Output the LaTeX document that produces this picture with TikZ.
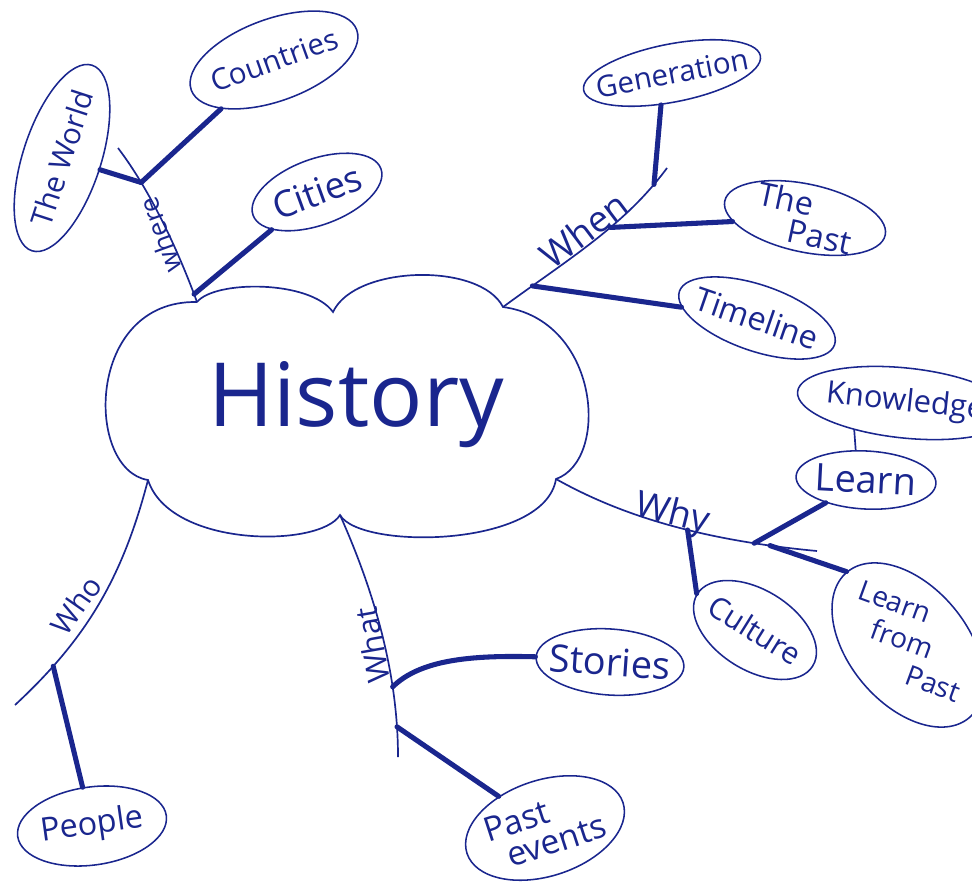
\documentclass[tikz,border=0pt]{standalone}
\usepackage{fontspec}
\setmainfont{Open Sans}
\usetikzlibrary{shapes.geometric}
\definecolor{penblue}{RGB}{26,38,142}
\newcommand{\pen}[1]{\fontsize{#1}{#1}\selectfont}

\begin{document}
\begin{tikzpicture}[x=0.025cm, y=-0.025cm, color=penblue,
	bub/.style={draw, ellipse, line width=1.1pt, inner xsep=-12pt, inner ysep=-10pt},
	arm/.style={line width=1.2pt},
	stem/.style={line width=3.6pt, line cap=round}]
\useasboundingbox (0,0) rectangle (972,882);
\clip (0,0) rectangle (972,882);
\coordinate (20) at (197,302);
\coordinate (21) at (333,312);
\coordinate (22) at (503,307);
\coordinate (23) at (556,479);
\coordinate (24) at (340,515);
\coordinate (25) at (148,480);
\draw[line width=1.2pt] (20) .. controls (215,280) and (310,280) .. (21)
	.. controls (355,265) and (480,262) .. (22)
	.. controls (600,320) and (610,460) .. (23)
	.. controls (545,548) and (360,550) .. (24)
	.. controls (320,548) and (170,548) .. (25)
	.. controls (85,470) and (85,300) .. (20);
\node (0) at (356,405) {\pen{63}History};
\node[bub, rotate=72, minimum width=4.875cm, minimum height=1.95cm, font=\pen{21}] (1) at (62,158) {The World};
\node[bub, rotate=20, minimum width=4.4cm, minimum height=2.05cm, font=\pen{21}] (2) at (274,60) {Countries};
\node[bub, rotate=20, minimum width=3.4cm, minimum height=1.65cm, font=\pen{26}] (3) at (317,192) {Cities};
\node[bub, rotate=11, minimum width=4.5cm, minimum height=1.45cm, font=\pen{21}] (4) at (672,73) {Generation};
\node[bub, rotate=-12, minimum width=4.1cm, minimum height=1.7cm, font=\pen{23}, align=left] (5) at (805,218) {The\\[-2pt]\hspace{26pt}Past};
\node[bub, rotate=-19, minimum width=4.1cm, minimum height=1.65cm, font=\pen{23}] (6) at (757,318) {Timeline};
\node[bub, rotate=-6, minimum width=5.4cm, minimum height=1.75cm, font=\pen{22}] (7) at (905,403) {Knowledge};
\node[bub, rotate=-3, minimum width=3.5cm, minimum height=1.45cm, font=\pen{27}] (8) at (866,480) {Learn};
\node[bub, rotate=-50, minimum width=4.75cm, minimum height=2.95cm, inner ysep=-26pt, font=\pen{20}] (9) at (908,645)
	{\rotatebox{30}{\begin{tabular}{@{}l@{}}Learn\\[2pt]\hspace{18pt}from\\[2pt]\hspace{52pt}Past\end{tabular}}};
\node[bub, rotate=-32, minimum width=3.4cm, minimum height=2cm, font=\pen{21.5}] (10) at (755,630) {Culture};
\node[bub, rotate=-4, minimum width=3.7cm, minimum height=1.65cm, font=\pen{27}] (11) at (610,662) {Stories};
\node[bub, rotate=18, minimum width=4.1cm, minimum height=2.4cm, font=\pen{24}, align=left] (12) at (545,828) {Past\\[-2pt]\hspace{10pt}events};
\node[bub, rotate=8, minimum width=3.75cm, minimum height=1.95cm, font=\pen{23}] (13) at (92,826) {People};
\node[rotate=110, font=\pen{19}] (14) at (160,235) {where};
\node[rotate=37, font=\pen{26}] (15) at (584,230) {When};
\node[rotate=-14, font=\pen{26}] (16) at (672,515) {Why};
\node[rotate=100, font=\pen{22}] (17) at (372,645) {What};
\node[rotate=55, font=\pen{21}] (18) at (76,605) {Who};
\coordinate (26) at (118,148);
\coordinate (30) at (667,168);
\coordinate (35) at (817,551);
\coordinate (40) at (398,757);
\coordinate (45) at (15,705);
\draw[arm] (20) .. controls (178,250) and (150,190) .. (26) coordinate[pos=.75] (27) coordinate[pos=.05] (28);
\draw[arm] (22) .. controls (570,258) and (625,225) .. (30) coordinate[pos=.15] (31) coordinate[pos=.6] (32) coordinate[pos=.9] (33);
\draw[arm] (23) .. controls (620,515) and (700,540) .. (35) coordinate[pos=.58] (36) coordinate[pos=.81] (37) coordinate[pos=.86] (38);
\draw[arm] (24) .. controls (378,600) and (398,680) .. (40) coordinate[pos=.7] (41) coordinate[pos=.87] (42);
\draw[arm] (25) .. controls (122,580) and (85,640) .. (45) coordinate[pos=.8] (46);
\draw[stem] (27) to (1);
\draw[stem] (27) to (2);
\draw[stem] (28) to (3);
\draw[stem] (31) to (6);
\draw[stem] (32) to (5);
\draw[stem] (33) to (4.240);
\draw[stem] (36) to (10.west);
\draw[stem] (37) to (8);
\draw[stem] (38) to (9.west);
\draw[arm] (8.112) to (7.214);
\draw[stem] (41) .. controls (420,660) and (470,655) .. (11.west);
\draw[stem] (42) to (12);
\draw[stem] (46) to (13);
\end{tikzpicture}
\end{document}
